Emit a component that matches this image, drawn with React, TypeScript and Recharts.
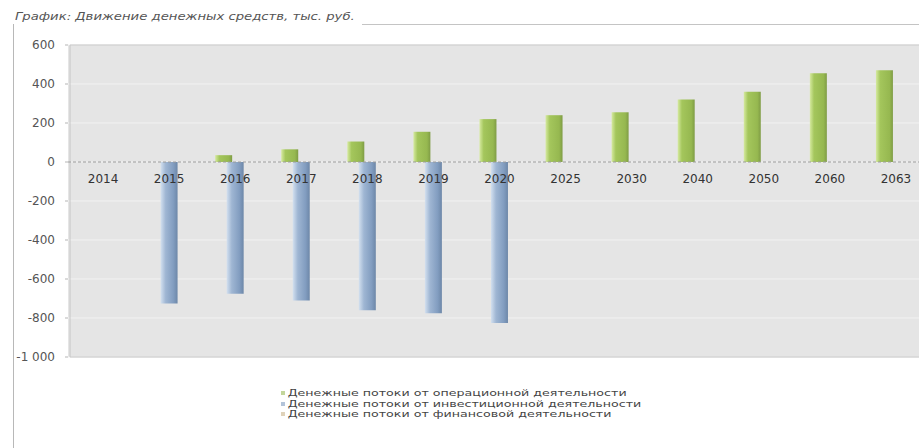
import { Bar, CartesianGrid, ComposedChart, Legend, ReferenceArea, ReferenceDot, ReferenceLine, XAxis, YAxis } from 'recharts';

// годы (категории)
const YEARS = ['2014', '2015', '2016', '2017', '2018', '2019', '2020', '2025', '2030', '2040', '2050', '2060', '2063'];
// тыс. руб.
const OPERATING = [0, 0, 35, 65, 105, 155, 220, 240, 255, 320, 360, 455, 470];
const INVESTING = [0, -725, -675, -710, -760, -775, -825, 0, 0, 0, 0, 0, 0];
const FINANCING = [0, 0, 0, 0, 0, 0, 0, 0, 0, 0, 0, 0, 0];
const Y_TICKS = [600, 400, 200, 0, -200, -400, -600, -800, -1000];
const NAMES = [
  'Денежные потоки от операционной деятельности',
  'Денежные потоки от инвестиционной деятельности',
  'Денежные потоки от финансовой деятельности',
];
const KEY_COLORS = ['#9bbb59', '#7f9bbf', '#c9b48a'];

const FONT = '"DejaVu Sans", sans-serif';

const data = YEARS.map((year, i) => ({
  year,
  operating: OPERATING[i],
  investing: INVESTING[i],
  financing: FINANCING[i],
}));

const fmt = (v: number) => (v < 0 ? '-' : '') + String(Math.abs(v)).replace(/\B(?=(\d{3})+(?!\d))/g, ' ');

function LegendBox() {
  return (
    <div
      style={{
        fontFamily: FONT,
        fontSize: 9.5,
        color: '#444',
        lineHeight: '10.5px',
        transform: 'scaleX(1.33)',
        transformOrigin: 'left top',
      }}
    >
      {NAMES.map((n, i) => (
        <div key={n} style={{ display: 'flex', alignItems: 'center', whiteSpace: 'nowrap' }}>
          <span style={{ width: 3, height: 4, background: KEY_COLORS[i], marginRight: 2, opacity: 0.6 }} />
          {n}
        </div>
      ))}
    </div>
  );
}

export default function App() {
  return (
    <div style={{ position: 'absolute', left: 0, top: 0, width: 919, height: 448, background: '#fff', overflow: 'hidden' }}>
      <div
        style={{
          position: 'absolute',
          left: 15,
          top: 10,
          fontFamily: FONT,
          fontStyle: 'italic',
          fontSize: 11,
          color: '#555',
          whiteSpace: 'nowrap',
          transform: 'scaleX(1.2)',
          transformOrigin: 'left top',
        }}
      >
        График: Движение денежных средств, тыс. руб.
      </div>
      <div style={{ position: 'absolute', left: 362, top: 24, right: 0, borderTop: '1px solid #c4c4c4' }} />
      <div style={{ position: 'absolute', left: 13, top: 24, bottom: 0, borderLeft: '1px solid #b8b8b8' }} />

      <ComposedChart
        width={919}
        height={448}
        data={data}
        margin={{ top: 45, right: -10, bottom: 91, left: 14 }}
        barSize={17}
        barGap={-5.5}
        style={{ position: 'absolute', left: 0, top: 0 }}
      >
        <defs>
          <linearGradient id="gGreen" x1="0" y1="0" x2="1" y2="0">
            <stop offset="0%" stopColor="#d6eaa0" />
            <stop offset="25%" stopColor="#a4c65c" />
            <stop offset="80%" stopColor="#96b850" />
            <stop offset="100%" stopColor="#7f9c45" />
          </linearGradient>
          <linearGradient id="gBlue" x1="0" y1="0" x2="1" y2="0">
            <stop offset="0%" stopColor="#d3e0ef" />
            <stop offset="30%" stopColor="#9fb6d3" />
            <stop offset="75%" stopColor="#829dc0" />
            <stop offset="100%" stopColor="#6d87a8" />
          </linearGradient>
        </defs>
        <CartesianGrid vertical={false} fill="#e5e5e5" stroke="#f2f2f2" />
        <XAxis dataKey="year" hide padding={{ left: 2, right: 0 }} />
        <YAxis
          domain={[-1000, 600]}
          ticks={Y_TICKS}
          width={54}
          interval={0}
          axisLine={false}
          tickSize={3}
          tickMargin={10}
          tickLine={{ stroke: '#b5b5b5' }}
          tickFormatter={fmt}
          tick={{ fontSize: 12, fill: '#555', fontFamily: FONT }}
        />
        <ReferenceArea y1={-1000} y2={600} fill="none" stroke="#c6c6c6" ifOverflow="visible" />
        <Bar dataKey="operating" name={NAMES[0]} fill="url(#gGreen)" isAnimationActive={false} />
        <Bar dataKey="investing" name={NAMES[1]} fill="url(#gBlue)" isAnimationActive={false} />
        <Bar dataKey="financing" name={NAMES[2]} fill={KEY_COLORS[2]} isAnimationActive={false} />
        <ReferenceLine y={0} stroke="#9a9a9a" strokeDasharray="3 2" />
        {YEARS.map((y) => (
          <ReferenceDot
            key={y}
            x={y}
            y={0}
            r={0}
            fill="none"
            stroke="none"
            label={{ value: y, position: 'bottom', offset: 12, fill: '#333', fontSize: 12, fontFamily: FONT }}
          />
        ))}
        <Legend
          layout="vertical"
          align="center"
          verticalAlign="middle"
          content={() => <LegendBox />}
          wrapperStyle={{ left: 281, top: 388, width: 'auto' }}
        />
      </ComposedChart>
    </div>
  );
}
